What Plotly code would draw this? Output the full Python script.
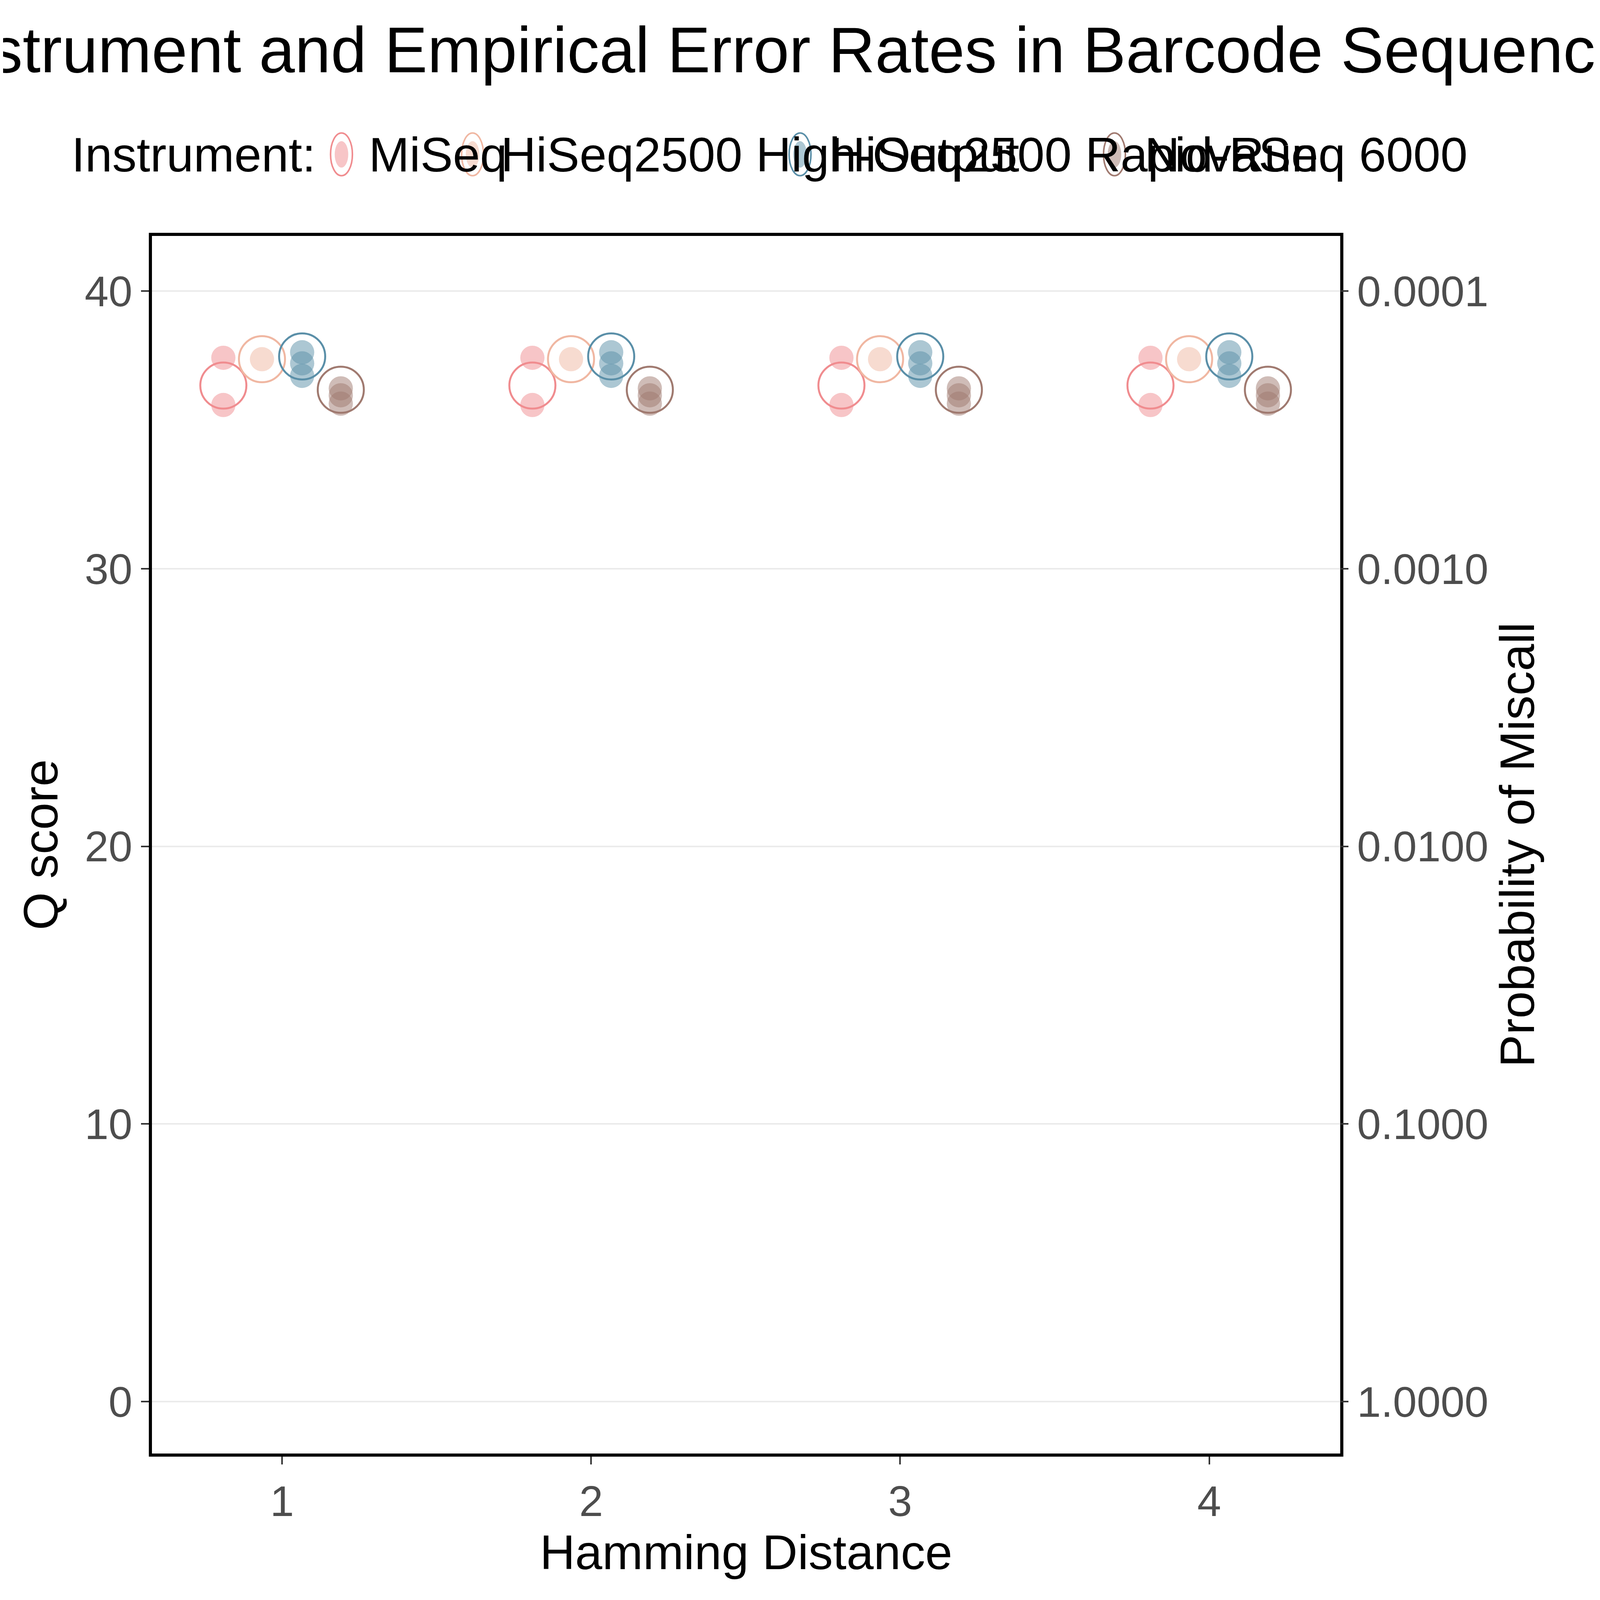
import plotly.graph_objects as go

distances = [1, 2, 3, 4]
instruments = ["MiSeq", "HiSeq2500 High-Output", "HiSeq2500 Rapid-Run", "NovaSeq 6000"]
colors = ["#F08C8F", "#F0B7A2", "#5A8FA8", "#A07A70"]
offsets = [-0.19, -0.065, 0.065, 0.19]

# instrument-reported Q score (open circles)
instrument_q = [36.6, 37.55, 37.65, 36.45]
# empirical Q scores per distance (filled points)
empirical_q = {
    "MiSeq": [37.6, 35.9],
    "HiSeq2500 High-Output": [37.55],
    "HiSeq2500 Rapid-Run": [37.8, 37.4, 36.95],
    "NovaSeq 6000": [36.5, 36.25, 35.95],
}

prob_ticks = [0, 10, 20, 30, 40]
prob_labels = ["1.0000", "0.1000", "0.0100", "0.0010", "0.0001"]

def rgba(h, a):
    h = h.lstrip("#")
    return f"rgba({int(h[0:2],16)},{int(h[2:4],16)},{int(h[4:6],16)},{a})"

fig = go.Figure()
for name, col, off, q in zip(instruments, colors, offsets, instrument_q):
    xs, ys = [], []
    for d in distances:
        for v in empirical_q[name]:
            xs.append(d + off)
            ys.append(v)
    fig.add_trace(go.Scatter(x=xs, y=ys, mode="markers", showlegend=False, name=name,
                             marker=dict(size=62, color=rgba(col, 0.5), line=dict(width=0))))
    fig.add_trace(go.Scatter(x=[d + off for d in distances], y=[q] * len(distances),
                             mode="markers", showlegend=False, name=name,
                             marker=dict(size=118, color="rgba(0,0,0,0)", line=dict(width=5, color=col))))

# invisible trace to hold secondary axis
fig.add_trace(go.Scatter(x=[1], y=[0], yaxis="y2", mode="markers", showlegend=False,
                         marker=dict(opacity=0), hoverinfo="skip"))

# hand-drawn legend above the plot (paper coords of the plot area)
legend_circle_x = [0.1595, 0.2698, 0.5454, 0.8100]
legend_text_x = [0.1818, 0.2928, 0.5700, 0.8346]
ly = 1.067
rx, ry = 0.0092, 0.0175
fig.add_annotation(x=legend_circle_x[0] - 0.021, y=ly, xref="paper", yref="paper",
                   text="Instrument:", showarrow=False, xanchor="right", yanchor="middle",
                   font=dict(size=125))
for name, col, cx, tx in zip(instruments, colors, legend_circle_x, legend_text_x):
    fig.add_shape(type="circle", xref="paper", yref="paper",
                  x0=cx - rx, x1=cx + rx, y0=ly - ry, y1=ly + ry,
                  line=dict(color=col, width=4), fillcolor="rgba(0,0,0,0)")
    fig.add_shape(type="circle", xref="paper", yref="paper",
                  x0=cx - rx * 0.62, x1=cx + rx * 0.62, y0=ly - ry * 0.62, y1=ly + ry * 0.62,
                  line=dict(width=0), fillcolor=rgba(col, 0.5))
    fig.add_annotation(x=tx, y=ly, xref="paper", yref="paper", text=name, showarrow=False,
                       xanchor="left", yanchor="middle", font=dict(size=125))

font = "Arial, Liberation Sans, sans-serif"
fig.update_layout(
    paper_bgcolor="white", plot_bgcolor="white",
    font=dict(family=font, size=110, color="black"),
    margin=dict(l=381, r=657, t=596, b=367),
    showlegend=False,
    title=dict(text="Instrument and Empirical Error Rates in Barcode Sequences",
               x=0.5, xanchor="center", y=0.985, yanchor="top", font=dict(size=165)),
    xaxis=dict(range=[0.579, 4.424], tickvals=distances, showgrid=False, zeroline=False,
               showline=True, linecolor="black", linewidth=8, mirror=True,
               ticks="outside", ticklen=20, tickwidth=4, tickcolor="#333",
               tickfont=dict(size=110, color="#4d4d4d"),
               title=dict(text="Hamming Distance", font=dict(size=125), standoff=20)),
    yaxis=dict(range=[-1.87, 41.99], tickvals=prob_ticks, showgrid=True, gridcolor="#EBEBEB",
               gridwidth=4, zeroline=False, showline=True, linecolor="black", linewidth=8,
               mirror=True, ticks="outside", ticklen=20, tickwidth=4, tickcolor="#333",
               tickfont=dict(size=110, color="#4d4d4d"),
               title=dict(text="Q score", font=dict(size=125), standoff=30)),
    yaxis2=dict(range=[-1.87, 41.99], overlaying="y", side="right", tickvals=prob_ticks,
                ticktext=prob_labels, showgrid=False, zeroline=False,
                ticks="outside", ticklen=20, tickwidth=4, tickcolor="#333",
                tickfont=dict(size=110, color="#4d4d4d"),
                title=dict(text="Probability of Miscall", font=dict(size=125), standoff=30)),
)

fig.write_html("out.html")
